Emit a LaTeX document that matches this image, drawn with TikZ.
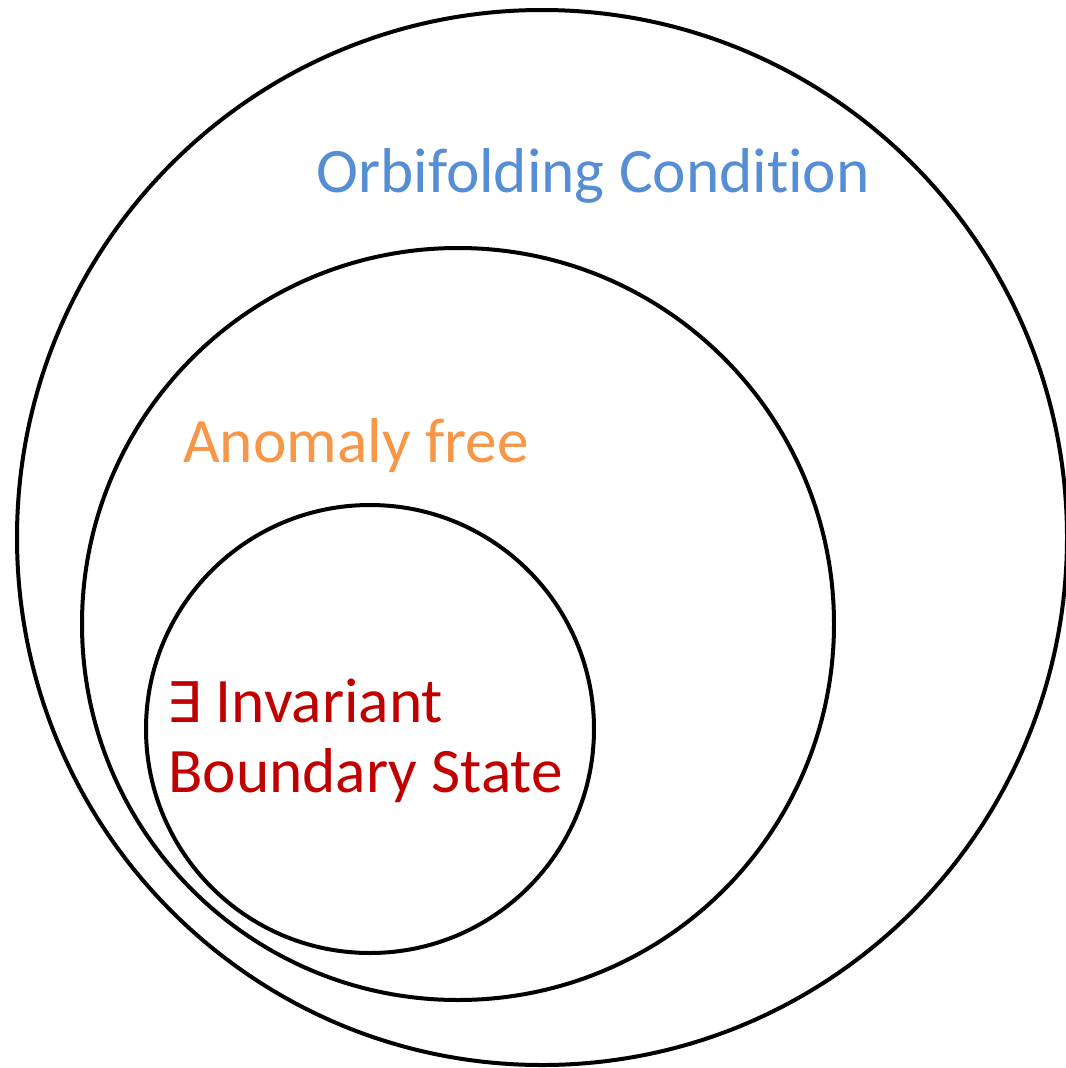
\documentclass[tikz,border=0pt]{standalone}
\usepackage{fontspec}
\setmainfont{Carlito}[Ligatures=NoCommon]
\newfontfamily\symfont{DejaVu Sans}
\definecolor{cblue}{HTML}{558ED5}
\definecolor{corange}{HTML}{F79646}
\definecolor{cred}{HTML}{C00000}
\begin{document}
\begin{tikzpicture}[x=0.75pt,y=-0.75pt,
  ring/.style={draw=black,line width=3pt},
  lab/.style={anchor=base west,inner sep=0pt,font=\fontsize{47.5}{52}\selectfont}]
\useasboundingbox (0,0) rectangle (1066,1068);
\draw[ring] (542,537.5) ellipse [x radius=525, y radius=527.5];
\draw[ring] (458,624) ellipse [x radius=376, y radius=376];
\draw[ring] (370,729) ellipse [x radius=224, y radius=224];
\node[lab,text=cblue] (orb) at (316,192) {Orbifolding Condition};
\node[lab,text=corange] (ano) at (183,462) {Anomaly free};
\node[lab,text=cred] (inv) at (166,722) {{\symfont\fontsize{42}{52}\selectfont ∃} Invariant};
\node[lab,text=cred] (bnd) at (168,792) {Boundary State};
\end{tikzpicture}
\end{document}
